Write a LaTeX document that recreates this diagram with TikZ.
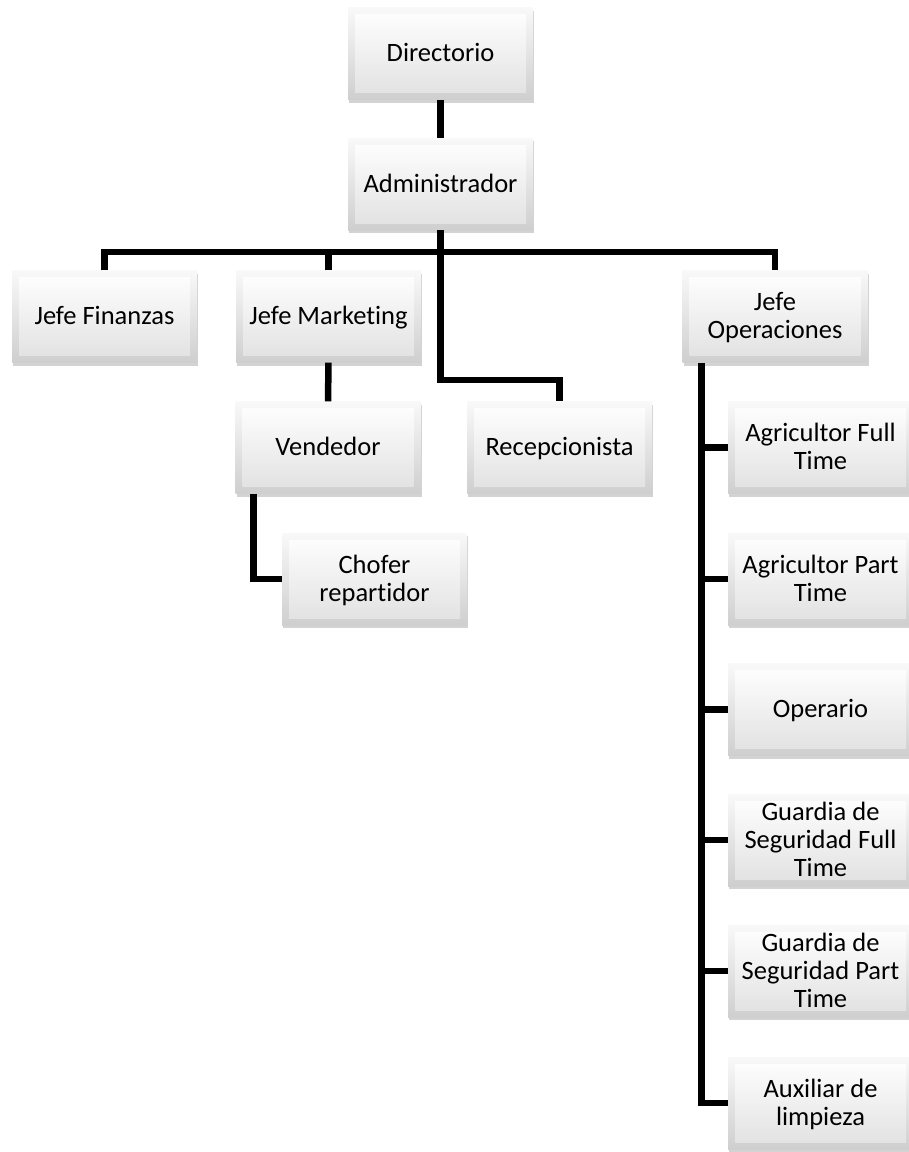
\documentclass[tikz,border=0pt]{standalone}
\usepackage{fontspec}
\setmainfont{Carlito}[Ligatures=NoCommon]
\usetikzlibrary{shadows}

\tikzset{
  orgbox/.style={rectangle, minimum width=185pt, minimum height=92pt,
    text width=172pt, align=flush center, inner sep=0pt,
    execute at begin node=\rule{0pt}{25pt}, execute at end node=\strut,
    top color=gray!5, bottom color=gray!38,
    drop shadow={shadow xshift=1pt, shadow yshift=-3pt, opacity=0.35, fill=gray},
    path picture={\shade[top color=white, bottom color=gray!24]
      ([shift={(7pt,-7pt)}]path picture bounding box.north west) rectangle
      ([shift={(-7pt,7pt)}]path picture bounding box.south east);},
    font=\fontsize{26.5}{28}\selectfont},
  conn/.style={line width=6.5pt, black}
}

\begin{document}
\begin{tikzpicture}[x=1pt,y=1pt,yscale=-1,xscale=1]
		% Set diagram frame: 909 wide, 1152 high
		\useasboundingbox (0,0) rectangle (909,1152);

		% Top levels
		\node[orgbox] (dir) at (440.5,53.5) {Directorio};
		\node[orgbox] (adm) at (440.5,184) {Administrador};

		% Second level (heads)
		\node[orgbox] (fin) at (104.5,316.5) {Jefe Finanzas};
		\node[orgbox] (mkt) at (328.5,316.5) {Jefe Marketing};
		\node[orgbox] (ope) at (775,316.5) {Jefe Operaciones};

		% Under marketing and the reception
		\node[orgbox] (ven) at (328,447.5) {Vendedor};
		\node[orgbox] (rec) at (559.5,447.5) {Recepcionista};
		\node[orgbox] (cho) at (374.5,579) {Chofer repartidor};

		% Staff under operations
		\node[orgbox] (agf) at (820.5,447.5) {Agricultor Full Time};
		\node[orgbox] (agp) at (820.5,579) {Agricultor Part Time};
		\node[orgbox] (opr) at (820.5,709.5) {Operario};
		\node[orgbox] (gsf) at (820.5,840) {Guardia de Seguridad Full Time};
		\node[orgbox] (gsp) at (820.5,971) {Guardia de Seguridad Part Time};
		\node[orgbox] (aux) at (820.5,1103) {Auxiliar de limpieza};

		% Helper points for the bus and the bends
		\coordinate (bus) at (440.5,252);
		\coordinate (recbend) at (440.5,380);
		\coordinate (opeline) at ([xshift=19pt]ope.south west);
		\coordinate (venline) at ([xshift=18pt]ven.south west);

		% Connectors
		\draw[conn] (dir) -- (adm);
		\draw[conn] (adm.south) -- (recbend) -| (rec.north);
		\draw[conn, line join=miter] (fin.north) -- (fin.north |- bus) -- (ope.north |- bus) -- (ope.north);
		\draw[conn] (mkt.north) -- (mkt.north |- bus);
		\draw[conn] (mkt) -- (ven);
		\draw[conn, line join=miter] (venline) |- (cho.west);
		\draw[conn, line join=miter] (opeline) |- (aux.west);
		\foreach \b in {agf,agp,opr,gsf,gsp}
			\draw[conn] (opeline |- \b.west) -- (\b.west);
\end{tikzpicture}
\end{document}
